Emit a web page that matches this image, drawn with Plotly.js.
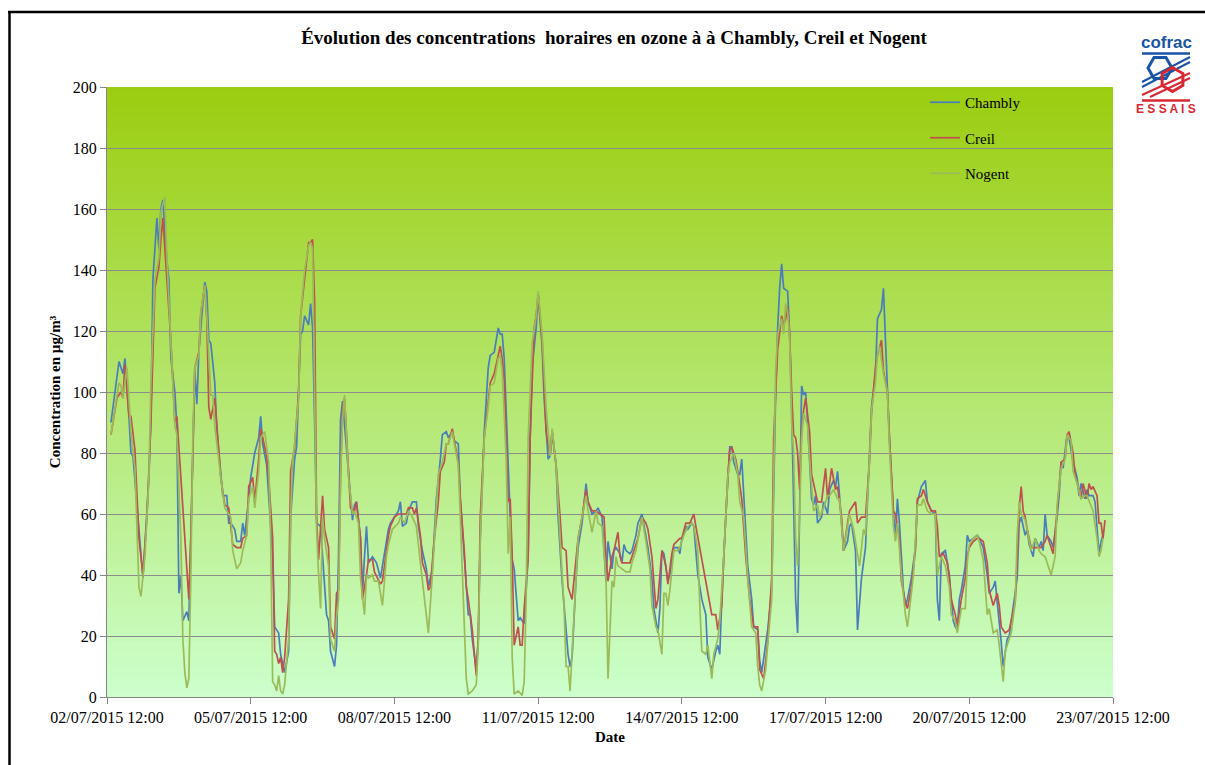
<!DOCTYPE html>
<html>
<head>
<meta charset="utf-8">
<script src="https://cdn.plot.ly/plotly-3.0.1.min.js"></script>
<style>html,body{margin:0;padding:0;background:#fff;}#chart{width:1205px;height:765px;}</style>
</head>
<body>
<div id="chart"></div>
<script>
// Hours after 02/07/2015 12:00 and hourly ozone concentration (µg/m³)
const chambly = [[2,90],[4,100],[6,110],[8,106],[9,111],[11,92],[12,80],[13,79],[18,39],[21,72],[22,91],[23,137],[25,157],[26,147],[27,160],[28,163],[30,143],[31,137],[32,111],[34,100],[35,89],[36,34],[37,40],[38,25],[40,28],[41,25],[42,52],[44,107],[45,96],[46,113],[48,129],[49,136],[50,133],[51,117],[52,116],[54,103],[55,88],[57,72],[58,66],[60,66],[61,57],[62,57],[64,55],[65,51],[67,51],[68,57],[69,53],[71,65],[72,72],[74,80],[76,85],[77,92],[78,83],[80,76],[81,65],[83,46],[84,23],[86,21],[87,14],[89,8],[91,15],[92,59],[94,78],[95,82],[97,119],[98,120],[99,125],[101,122],[102,129],[103,121],[104,91],[105,57],[107,56],[108,46],[110,27],[111,25],[112,15],[114,10],[115,17],[116,46],[117,91],[118,97],[119,89],[121,74],[123,58],[124,63],[125,64],[127,52],[128,34],[129,46],[130,56],[131,44],[133,46],[135,44],[137,39],[139,47],[141,55],[142,57],[144,59],[146,61],[147,64],[148,56],[150,57],[151,61],[153,64],[155,64],[156,56],[158,48],[160,42],[161,36],[163,42],[165,65],[167,78],[168,86],[170,87],[171,85],[173,87],[174,84],[176,83],[177,65],[179,46],[181,27],[182,27],[183,19],[185,9],[186,19],[187,52],[189,87],[191,108],[192,112],[194,113],[196,121],[197,119],[198,119],[199,111],[201,72],[202,59],[203,45],[204,42],[206,25],[207,26],[209,24],[211,46],[212,85],[213,108],[215,121],[216,132],[218,115],[219,98],[221,78],[222,79],[223,87],[225,76],[226,59],[228,38],[230,22],[231,14],[232,10],[233,13],[235,39],[236,49],[238,57],[240,70],[241,64],[243,60],[245,61],[246,62],[248,59],[250,38],[251,51],[253,42],[254,48],[255,49],[257,47],[258,44],[259,50],[260,48],[262,47],[263,48],[265,53],[266,57],[268,60],[270,53],[271,49],[273,39],[274,29],[276,21],[277,29],[278,48],[279,47],[281,38],[282,40],[284,49],[286,49],[287,47],[288,52],[290,56],[291,55],[293,57],[294,56],[295,48],[296,40],[298,32],[300,27],[301,13],[303,9],[305,15],[306,17],[307,14],[308,32],[310,59],[311,72],[312,82],[313,82],[314,77],[316,73],[317,73],[318,78],[319,65],[321,43],[323,32],[324,23],[326,22],[327,12],[328,8],[330,17],[331,22],[333,35],[334,70],[335,100],[336,121],[337,134],[338,142],[339,134],[341,133],[342,119],[343,95],[344,59],[345,32],[346,21],[347,59],[348,102],[349,99],[350,100],[351,90],[352,78],[353,65],[354,63],[355,66],[356,57],[358,59],[359,64],[361,60],[362,68],[364,71],[365,69],[366,74],[367,66],[369,48],[371,51],[372,56],[373,57],[375,48],[376,22],[378,39],[380,49],[382,78],[383,95],[385,106],[386,124],[388,127],[389,134],[390,117],[391,100],[392,85],[394,60],[395,52],[396,65],[397,57],[399,35],[400,30],[401,32],[403,39],[405,49],[406,64],[408,69],[410,71],[411,64],[413,61],[415,60],[416,32],[417,25],[418,47],[420,48],[421,44],[422,40],[423,32],[424,25],[425,23],[426,22],[427,32],[428,35],[430,43],[431,53],[432,51],[434,52],[436,53],[437,52],[439,49],[441,40],[442,34],[444,36],[445,38],[446,31],[447,25],[448,18],[449,10],[450,15],[451,19],[452,20],[454,29],[456,39],[457,57],[458,59],[460,53],[461,55],[462,50],[464,46],[465,52],[467,49],[468,51],[469,48],[470,60],[471,53],[473,51],[474,49],[476,59],[477,66],[478,77],[479,75],[481,86],[482,85],[484,77],[485,74],[486,72],[487,66],[488,70],[490,65],[491,68],[492,66],[494,66],[495,64],[496,55],[497,47],[498,51],[499,53]];

const creil = [[2,86],[5,98],[7,100],[8,98],[9,109],[11,92],[12,92],[14,81],[16,52],[18,40],[20,59],[22,90],[24,134],[26,141],[27,150],[28,157],[30,137],[32,117],[34,90],[35,92],[37,72],[39,52],[41,32],[42,52],[44,108],[46,113],[47,126],[49,135],[50,124],[51,95],[52,91],[54,98],[57,72],[59,63],[61,62],[63,50],[65,49],[67,49],[68,52],[70,53],[71,69],[73,72],[74,64],[76,78],[77,88],[78,85],[80,79],[81,72],[83,52],[84,15],[85,14],[86,11],[87,13],[88,8],[89,13],[91,32],[92,74],[94,82],[96,100],[97,125],[99,138],[101,149],[102,149],[103,150],[104,130],[105,59],[106,45],[108,66],[109,55],[111,49],[112,23],[114,19],[115,34],[116,35],[117,72],[118,95],[119,98],[120,85],[122,62],[124,61],[125,64],[127,52],[128,32],[130,40],[131,45],[133,45],[134,41],[137,37],[138,38],[141,53],[142,56],[144,59],[146,60],[147,60],[150,60],[151,62],[153,62],[154,60],[155,62],[157,53],[158,44],[160,40],[161,35],[162,36],[164,52],[166,64],[167,74],[169,77],[170,83],[171,83],[173,88],[174,84],[176,77],[177,65],[179,48],[180,36],[181,32],[183,22],[185,7],[186,19],[187,59],[189,85],[191,98],[192,103],[194,106],[196,112],[197,115],[198,111],[199,104],[201,64],[202,65],[203,46],[204,17],[206,23],[207,17],[208,17],[209,29],[211,46],[212,85],[214,121],[215,125],[216,132],[218,117],[220,87],[222,79],[223,87],[225,76],[227,59],[228,49],[230,48],[231,36],[233,32],[235,46],[236,52],[238,59],[240,68],[241,64],[243,61],[245,61],[247,60],[249,59],[250,46],[251,38],[252,42],[253,46],[254,48],[256,54],[257,46],[258,44],[260,44],[262,44],[264,48],[266,52],[268,59],[270,57],[271,55],[273,46],[275,29],[276,32],[278,48],[280,43],[281,37],[283,47],[284,50],[287,52],[288,52],[290,57],[292,57],[294,60],[295,56],[297,49],[299,42],[301,34],[303,27],[305,27],[306,22],[308,30],[309,46],[311,72],[312,81],[313,82],[315,78],[316,74],[318,65],[320,46],[322,32],[324,23],[326,23],[327,9],[329,6],[330,12],[331,18],[333,39],[334,85],[336,114],[337,119],[338,125],[339,122],[340,124],[341,128],[342,119],[343,100],[344,86],[345,85],[346,80],[347,68],[348,87],[349,94],[350,98],[352,87],[353,73],[355,67],[356,64],[358,64],[360,75],[361,65],[363,75],[365,68],[366,69],[368,59],[369,48],[371,57],[372,61],[375,64],[376,57],[378,59],[380,59],[382,77],[383,93],[385,108],[386,112],[388,117],[389,107],[391,100],[392,85],[394,61],[395,60],[397,52],[398,38],[400,31],[401,29],[403,36],[405,48],[406,65],[408,66],[409,68],[411,64],[413,61],[415,61],[416,56],[417,46],[419,47],[421,44],[422,39],[423,32],[425,27],[426,23],[428,32],[430,39],[431,46],[432,49],[434,51],[436,52],[437,52],[439,51],[441,44],[442,35],[444,30],[446,34],[447,30],[448,23],[450,21],[452,22],[453,25],[455,31],[456,45],[457,62],[458,69],[459,61],[460,59],[461,55],[463,49],[465,49],[467,49],[468,49],[470,51],[471,53],[473,49],[474,47],[476,61],[478,77],[480,78],[481,86],[482,87],[484,80],[485,73],[487,68],[488,65],[489,70],[491,65],[492,70],[493,68],[494,69],[496,66],[497,57],[498,57],[499,52],[500,58]];

const nogent = [[2,86],[4,94],[6,103],[7,102],[8,98],[10,108],[11,99],[12,87],[14,75],[16,36],[17,33],[19,46],[21,72],[22,103],[24,137],[26,144],[27,159],[29,164],[30,144],[32,117],[34,89],[35,86],[37,52],[38,19],[39,8],[40,3],[41,6],[42,39],[43,85],[44,108],[46,112],[47,126],[49,135],[50,125],[52,99],[53,99],[54,89],[57,72],[59,62],[62,59],[63,48],[65,42],[67,44],[68,48],[70,53],[71,65],[73,69],[74,62],[76,74],[77,85],[79,87],[81,77],[82,52],[83,5],[84,4],[85,2],[86,7],[87,2],[88,1],[89,4],[91,19],[92,59],[93,78],[94,83],[96,98],[97,125],[99,140],[101,148],[102,149],[103,147],[104,100],[105,55],[106,40],[107,29],[108,59],[109,52],[111,43],[112,19],[114,15],[115,26],[116,32],[117,72],[118,91],[119,99],[120,85],[121,72],[123,60],[124,61],[126,57],[127,39],[129,27],[130,40],[131,39],[133,40],[134,38],[136,38],[138,30],[140,46],[141,50],[143,55],[146,57],[147,59],[149,57],[151,61],[153,59],[155,56],[157,44],[159,32],[161,21],[163,40],[165,64],[166,73],[168,77],[170,83],[171,83],[173,87],[174,83],[176,76],[177,59],[179,26],[180,6],[181,1],[183,2],[185,4],[186,17],[187,52],[189,85],[191,95],[192,102],[194,103],[196,111],[197,112],[198,107],[200,78],[201,47],[202,59],[203,13],[204,1],[206,2],[208,0.5],[209,5],[210,32],[211,85],[213,116],[215,125],[216,133],[218,119],[220,95],[222,79],[223,88],[225,76],[227,52],[229,29],[230,10],[231,10],[232,2],[233,13],[235,39],[236,52],[238,59],[240,66],[241,61],[243,54],[245,61],[246,57],[248,56],[250,39],[251,6],[253,38],[254,36],[255,46],[256,43],[258,42],[260,41],[262,41],[263,44],[265,48],[267,55],[268,59],[270,51],[272,42],[273,30],[275,23],[276,22],[278,14],[279,34],[280,34],[281,30],[282,35],[284,48],[286,48],[287,49],[289,53],[291,56],[293,57],[294,56],[296,48],[297,30],[298,15],[300,14],[301,17],[303,6],[304,14],[306,19],[307,25],[309,46],[311,72],[312,77],[314,80],[316,73],[317,64],[319,59],[321,39],[323,23],[325,21],[326,10],[327,4],[328,2],[330,9],[331,17],[333,32],[334,72],[335,107],[336,119],[338,124],[339,119],[340,129],[341,126],[342,118],[343,90],[344,80],[345,52],[346,43],[347,59],[348,85],[349,93],[351,89],[352,78],[354,61],[356,63],[357,59],[359,62],[361,66],[362,66],[364,68],[366,65],[367,65],[369,48],[371,57],[372,60],[374,55],[376,46],[377,43],[379,55],[380,53],[382,78],[383,94],[385,103],[386,112],[387,115],[389,106],[391,100],[392,82],[394,56],[395,51],[396,57],[398,40],[400,27],[401,23],[403,34],[404,40],[406,63],[408,63],[409,65],[411,61],[413,60],[415,60],[416,40],[418,46],[420,43],[421,40],[422,36],[423,27],[425,25],[426,21],[428,29],[430,29],[431,44],[432,50],[434,52],[436,53],[437,51],[439,45],[441,27],[442,29],[444,21],[446,22],[447,17],[449,5],[450,15],[452,19],[453,21],[455,31],[456,53],[457,64],[458,60],[460,58],[461,55],[463,48],[465,52],[467,48],[468,47],[470,46],[471,44],[473,40],[475,46],[476,63],[478,75],[480,78],[481,86],[483,84],[484,74],[486,70],[488,65],[490,66],[491,66],[493,63],[494,61],[496,52],[497,46],[498,48],[499,52]];

const seriesNames = ['Chambly', 'Creil', 'Nogent'];
const seriesColors = ['#4A7EBB', '#C0504D', '#9BBB59'];
const startTime = '2015-07-02 12:00';
const endTime = '2015-07-23 12:00';
const yTicks = [0, 20, 40, 60, 80, 100, 120, 140, 160, 180, 200];

const t0 = Date.UTC(2015, 6, 2, 12);
function toDate(h) {
  return new Date(t0 + h * 3600000).toISOString().slice(0, 16).replace('T', ' ');
}

const serif = '"Liberation Serif", "Times New Roman", serif';
const traces = [chambly, creil, nogent].map((s, i) => ({
  type: 'scatter', mode: 'lines', name: seriesNames[i], legendgroup: 'g' + i,
  x: s.map(p => toDate(p[0])), y: s.map(p => p[1]),
  line: {color: seriesColors[i], width: 1.7}, hoverinfo: 'x+y+name'
}));

// layout helpers (pixel -> paper)
const PL = 107, PR = 1113, PT = 87, PB = 697;
const PX = px => (px - PL) / (PR - PL);
const PY = py => (PB - py) / (PB - PT);

const shapes = [];
// vertical gradient background of the plot area
const NB = 122, topCol = [155, 205, 15], botCol = [204, 255, 204];
for (let i = 0; i < NB; i++) {
  const f = (i + 0.5) / NB;
  const c = botCol.map((b, k) => Math.round(b + (topCol[k] - b) * f));
  shapes.push({type: 'rect', xref: 'paper', yref: 'paper', x0: 0, x1: 1, y0: i / NB, y1: Math.min(1, (i + 1.02) / NB),
    fillcolor: `rgb(${c[0]},${c[1]},${c[2]})`, line: {width: 0}, layer: 'below'});
}
function seg(x0, y0, x1, y1, color, w) {
  shapes.push({type: 'line', xref: 'paper', yref: 'paper', x0: PX(x0), y0: PY(y0), x1: PX(x1), y1: PY(y1),
    line: {color: color, width: w}, layer: 'above'});
}
// outer frame
seg(8, 12, 1210, 12, '#000', 2.5);
seg(9.5, 11, 9.5, 770, '#000', 2.5);
// cofrac logo
const LB = 'rgb(25,85,165)', LR = 'rgb(215,40,50)';
seg(1142, 53.5, 1190, 53.5, LB, 2.5);
seg(1190, 57, 1142, 82, LB, 2);
seg(1190, 62, 1142, 87, LB, 2);
seg(1190, 73, 1142, 95, LR, 2);
seg(1190, 78, 1150, 97, LR, 2);
seg(1142, 100.5, 1190, 100.5, LR, 2.5);
function hex(cx, cy, r, rot, color) {
  let d = '';
  for (let k = 0; k < 6; k++) {
    const a = (rot + 60 * k) * Math.PI / 180;
    d += (k ? ' L ' : 'M ') + PX(cx + r * Math.cos(a)) + ',' + PY(cy + r * Math.sin(a));
  }
  shapes.push({type: 'path', xref: 'paper', yref: 'paper', path: d + ' Z',
    fillcolor: 'rgba(255,255,255,0)', line: {color: color, width: 3}, layer: 'above'});
}
hex(1160, 68, 12, 0, LB);
hex(1172.5, 79.5, 12, -90, LR);

const layout = {
  width: 1205, height: 765,
  margin: {l: PL, r: 1205 - PR, t: PT, b: 765 - PB},
  paper_bgcolor: '#ffffff', plot_bgcolor: 'rgba(0,0,0,0)',
  font: {family: serif, color: '#000', size: 16},
  title: {text: '<b>Évolution des concentrations  horaires en ozone à à Chambly, Creil et Nogent</b>',
    font: {family: serif, size: 19, color: '#000'}, x: 614 / 1205, xanchor: 'center',
    xref: 'container', y: 1 - 37 / 765, yref: 'container', yanchor: 'middle'},
  xaxis: {type: 'date', range: [startTime, endTime], tick0: startTime, dtick: 3 * 86400000,
    tickformat: '%d/%m/%Y %H:%M', showgrid: false, showline: true, linecolor: '#868686', linewidth: 1,
    ticks: 'outside', ticklen: 6, tickcolor: '#868686', tickfont: {family: serif, size: 16},
    title: {text: '<b>Date</b>', font: {family: serif, size: 15}, standoff: 6}, zeroline: false},
  yaxis: {range: [0, 200], tickvals: yTicks, showgrid: true, gridcolor: '#8c8c8c', gridwidth: 1,
    showline: true, linecolor: '#868686', ticks: 'outside', ticklen: 6, tickcolor: '#868686',
    tickfont: {family: serif, size: 16}, zeroline: false,
    title: {text: '<b>Concentration en µg/m³</b>', font: {family: serif, size: 15}, standoff: 8}},
  legend: {x: PX(925), y: PY(86), xanchor: 'left', yanchor: 'top', bgcolor: 'rgba(0,0,0,0)',
    font: {family: serif, size: 15}, tracegroupgap: 13, itemwidth: 30},
  shapes: shapes,
  annotations: [
    {text: '<b>cofrac</b>', x: PX(1166), y: PY(42), xref: 'paper', yref: 'paper', xanchor: 'center', yanchor: 'middle',
      showarrow: false, font: {family: '"Liberation Sans", Arial, sans-serif', size: 17, color: LB}},
    {text: '<b>E S S A I S</b>', x: PX(1166), y: PY(109), xref: 'paper', yref: 'paper', xanchor: 'center', yanchor: 'middle',
      showarrow: false, font: {family: '"Liberation Sans", Arial, sans-serif', size: 12, color: LR}}
  ],
  showlegend: true
};

Plotly.newPlot('chart', traces, layout, {displayModeBar: false, staticPlot: true});
</script>
</body>
</html>
